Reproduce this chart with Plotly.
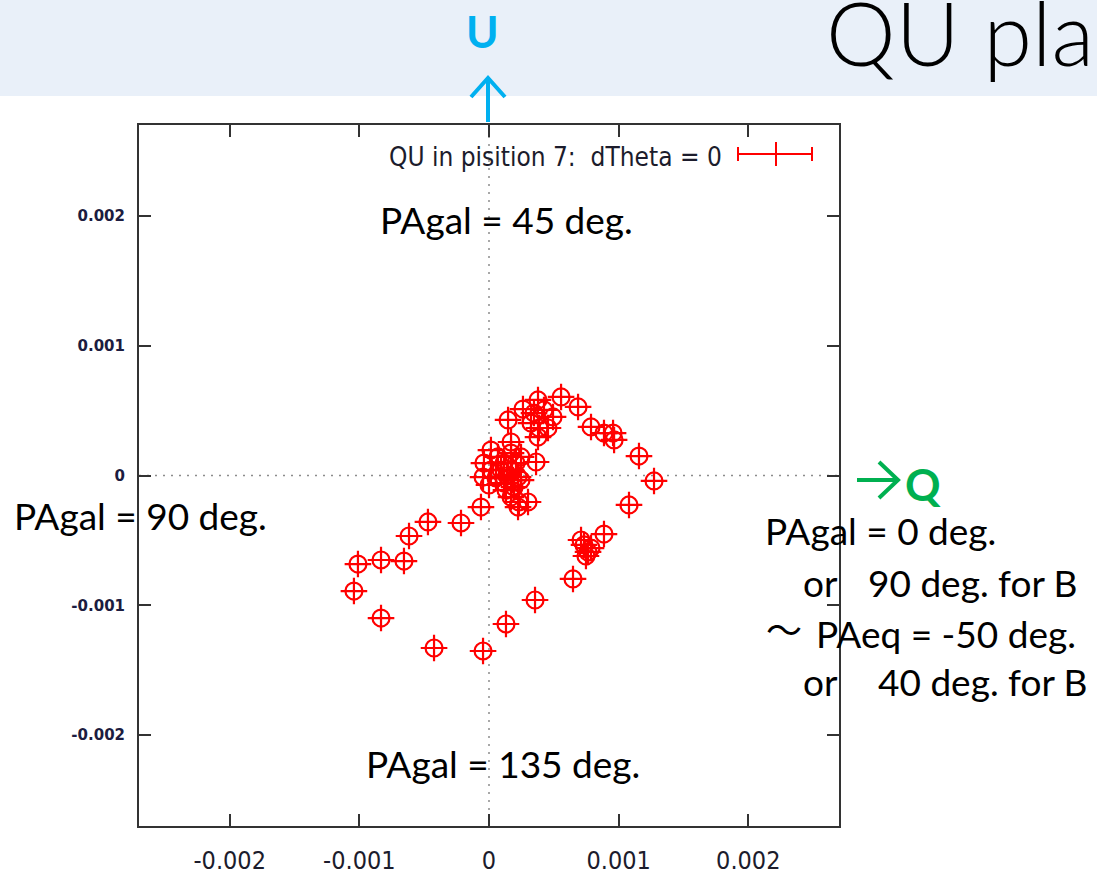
import plotly.graph_objects as go

# ---- data (Stokes Q, U) ----
Q = [1.273e-3, 1.157e-3, 1.080e-3, 0.887e-3, 0.733e-3, 0.764e-3, 0.710e-3, 0.787e-3, 0.748e-3,
     0.648e-3, 0.355e-3, 0.131e-3, -0.046e-3,
     -0.424e-3, -0.833e-3, -1.042e-3, -1.011e-3, -0.833e-3, -0.656e-3, -0.617e-3, -0.471e-3,
     -0.216e-3, -0.062e-3,
     0.015e-3, 0.170e-3, -0.039e-3, 0.069e-3, 0.170e-3, 0.247e-3, 0.363e-3, -0.046e-3, 0.000e-3,
     0.093e-3, 0.170e-3, 0.224e-3, 0.116e-3, 0.193e-3, 0.247e-3, 0.170e-3, 0.231e-3, 0.301e-3,
     0.224e-3, 0.015e-3, 0.116e-3, 0.208e-3, 0.139e-3, 0.054e-3, 0.185e-3, 0.131e-3,
     0.147e-3, 0.262e-3, 0.378e-3, 0.347e-3, 0.424e-3, 0.494e-3, 0.386e-3, 0.324e-3, 0.455e-3,
     0.378e-3, 0.556e-3, 0.687e-3, 0.787e-3, 0.887e-3, 0.957e-3, 0.965e-3]
U = [-0.042e-3, 0.150e-3, -0.227e-3, -0.451e-3, -0.535e-3, -0.589e-3, -0.497e-3, -0.559e-3, -0.620e-3,
     -0.797e-3, -0.959e-3, -1.144e-3, -1.352e-3,
     -1.329e-3, -1.098e-3, -0.890e-3, -0.682e-3, -0.651e-3, -0.659e-3, -0.466e-3, -0.358e-3,
     -0.366e-3, -0.243e-3,
     0.196e-3, 0.258e-3, 0.096e-3, 0.143e-3, 0.173e-3, 0.143e-3, 0.104e-3, -0.012e-3, -0.073e-3,
     0.042e-3, 0.042e-3, -0.012e-3, -0.058e-3, -0.089e-3, -0.035e-3, -0.166e-3, -0.204e-3, -0.204e-3,
     -0.243e-3, 0.042e-3, 0.096e-3, 0.096e-3, -0.004e-3, -0.019e-3, -0.035e-3, -0.112e-3,
     0.428e-3, 0.512e-3, 0.582e-3, 0.481e-3, 0.505e-3, 0.451e-3, 0.366e-3, 0.404e-3, 0.366e-3,
     0.296e-3, 0.605e-3, 0.528e-3, 0.374e-3, 0.327e-3, 0.327e-3, 0.274e-3]

tick_vals = [-0.002, -0.001, 0, 0.001, 0.002]
tick_text = ["-0.002", "-0.001", "0", "0.001", "0.002"]
axis_range = [-0.0027, 0.0027]

legend_label = "QU in pisition 7:  dTheta = 0"

# ---- page geometry helpers (pixel -> paper) ----
W, H = 1097, 876
L, R, T, B = 139, 839, 125, 826


def px(x):
    return (x - L) / (R - L)


def py(y):
    return (B - y) / (B - T)


RED = "#ff0000"
fig = go.Figure()
fig.add_trace(go.Scatter(x=Q, y=U, mode="markers", showlegend=False, hoverinfo="skip",
                         marker=dict(symbol="circle-open", size=17, color=RED,
                                     line=dict(color=RED, width=2.2))))
fig.add_trace(go.Scatter(x=Q, y=U, mode="markers", showlegend=False,
                         marker=dict(symbol="cross-thin-open", size=19, color=RED,
                                     line=dict(color=RED, width=2.2))))

shapes = []
# header band
shapes.append(dict(type="rect", xref="paper", yref="paper", x0=px(0), x1=px(W), y0=py(96), y1=py(0),
                   fillcolor="#e9f0f9", line=dict(width=0), layer="below"))
# zero axes (dotted)
shapes.append(dict(type="line", xref="x", yref="paper", x0=0, x1=0, y0=0, y1=1,
                   line=dict(color="#8c8c8c", width=1.5, dash="2px,6px"), layer="below"))
shapes.append(dict(type="line", xref="paper", yref="y", x0=0, x1=1, y0=0, y1=0,
                   line=dict(color="#8c8c8c", width=1.5, dash="2px,6px"), layer="below"))
# legend sample (horizontal error bar)
ly = 154
shapes.append(dict(type="line", xref="paper", yref="paper", x0=px(738), x1=px(812), y0=py(ly), y1=py(ly),
                   line=dict(color=RED, width=2)))
for xx, hh in [(738, 7), (812, 7), (776, 12)]:
    shapes.append(dict(type="line", xref="paper", yref="paper", x0=px(xx), x1=px(xx),
                       y0=py(ly - hh), y1=py(ly + hh), line=dict(color=RED, width=2)))
# cyan up arrow
CY = "#00b0f0"
shapes.append(dict(type="path", xref="paper", yref="paper",
                   path="M {a},{b} L {a},{c}".format(a=px(488), b=py(122), c=py(78)),
                   line=dict(color=CY, width=4)))
shapes.append(dict(type="path", xref="paper", yref="paper",
                   path="M {x1},{y1} L {x2},{y2} L {x3},{y3}".format(
                       x1=px(471), y1=py(97), x2=px(488), y2=py(78), x3=px(505), y3=py(97)),
                   line=dict(color=CY, width=4)))
# green right arrow
GR = "#00b050"
shapes.append(dict(type="path", xref="paper", yref="paper",
                   path="M {x1},{y} L {x2},{y}".format(x1=px(857), x2=px(898), y=py(480)),
                   line=dict(color=GR, width=4)))
shapes.append(dict(type="path", xref="paper", yref="paper",
                   path="M {x1},{y1} L {x2},{y2} L {x3},{y3}".format(
                       x1=px(879), y1=py(462), x2=px(898), y2=py(480), x3=px(879), y3=py(498)),
                   line=dict(color=GR, width=4)))

TF = "Lato, Carlito, 'Open Sans', sans-serif"
annots = []


def txt(s, x, y, size=37, color="black", xanchor="left", family=TF, weight="normal"):
    annots.append(dict(text=s, x=px(x), y=py(y), xref="paper", yref="paper", showarrow=False,
                       xanchor=xanchor, yanchor="middle",
                       font=dict(family=family, size=size, color=color, weight=weight)))


txt("QU plane", 824, 32, size=88, weight=300)
txt("U", 482, 31, size=44, color=CY, xanchor="center", weight="bold")
txt("Q", 903, 484, size=44, color=GR, weight="bold")
txt(legend_label, 724, 157, size=26, color="#1c1c2c", xanchor="right",
    family="'DejaVu Sans Condensed', 'DejaVu Sans', sans-serif")
txt("PAgal = 45 deg.", 378, 220)
txt("PAgal = 135 deg.", 364, 763)
txt("PAgal = 90 deg.", 12, 515)
txt("PAgal = 0 deg.", 763, 530)
txt("or", 801, 582)
txt("90 deg. for B", 866, 582)
txt("～", 764, 628, size=36, family="'Noto Sans CJK JP', sans-serif")
txt("PAeq = -50 deg.", 814, 633)
txt("or", 801, 681)
txt("40 deg. for B", 876, 681)

axis_common = dict(range=axis_range, tickvals=tick_vals, ticktext=tick_text, automargin=False,
                   showgrid=False, zeroline=False, showline=True, linecolor="#333333", linewidth=2,
                   mirror="allticks", ticks="inside", ticklen=12, tickwidth=2, tickcolor="#333333")

fig.update_layout(
    width=W, height=H,
    margin=dict(l=L, r=W - R, t=T, b=H - B, pad=0),
    paper_bgcolor="white", plot_bgcolor="white",
    xaxis=dict(**axis_common, ticklabelstandoff=11,
               tickfont=dict(family="'DejaVu Sans Condensed', 'DejaVu Sans', sans-serif", size=25,
                             color="#1c1c2c")),
    yaxis=dict(**axis_common, ticklabelstandoff=9,
               tickfont=dict(family="'DejaVu Sans', sans-serif", size=15, color="#1c1c40",
                             weight="bold")),
    shapes=shapes,
    annotations=annots,
    showlegend=False,
)

fig.write_html("out.html")
